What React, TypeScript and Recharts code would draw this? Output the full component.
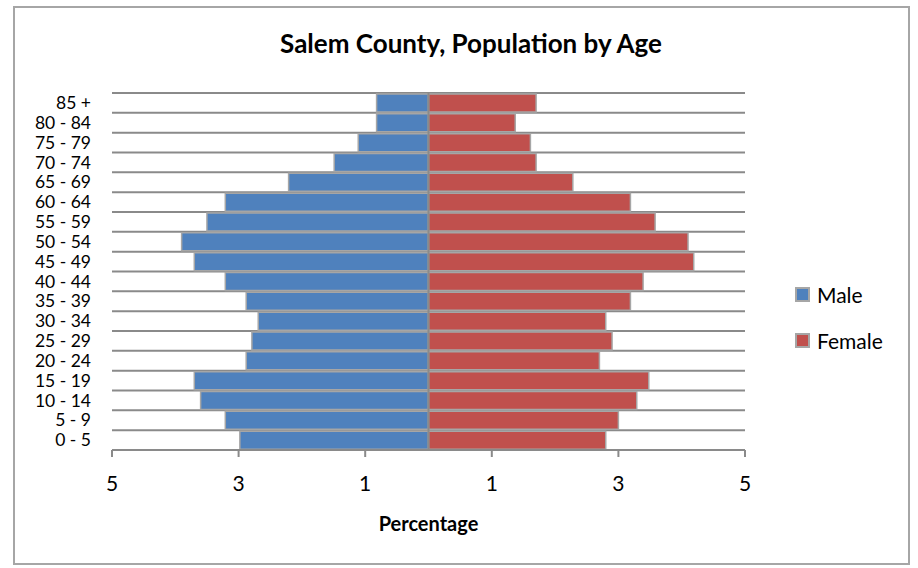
import React from "react";
import {
  BarChart,
  Bar,
  XAxis,
  YAxis,
  CartesianGrid,
  ReferenceLine,
} from "recharts";

const ageGroups = [
  "0 - 5", "5 - 9", "10 - 14", "15 - 19", "20 - 24", "25 - 29",
  "30 - 34", "35 - 39", "40 - 44", "45 - 49", "50 - 54", "55 - 59",
  "60 - 64", "65 - 69", "70 - 74", "75 - 79", "80 - 84", "85 +",
];

// percent of population, youngest group first
const malePct = [
  2.98, 3.21, 3.6, 3.7, 2.88, 2.79, 2.69, 2.88, 3.21,
  3.7, 3.9, 3.5, 3.21, 2.21, 1.49, 1.11, 0.82, 0.82,
];
const femalePct = [
  2.8, 3.0, 3.29, 3.48, 2.7, 2.9, 2.8, 3.19, 3.39,
  4.19, 4.1, 3.58, 3.19, 2.28, 1.7, 1.61, 1.37, 1.7,
];

const xTicks = [-5, -3, -1, 1, 3, 5];

const series = [
  { key: "male", name: "Male", color: "#4f81bd" },
  { key: "female", name: "Female", color: "#c0504d" },
];

const data = ageGroups.map((age, i) => ({
  age,
  male: -malePct[i],
  female: femalePct[i],
}));

const FONT = "Lato, 'Open Sans', sans-serif";
const GRID = "#8a8a8a";
const OUTLINE = "#a6a6a6";

export default function App() {
  return (
    <div
      style={{
        position: "absolute",
        left: 0,
        top: 0,
        width: 918,
        height: 568,
        background: "#fff",
        fontFamily: FONT,
      }}
    >
      <div
        style={{
          position: "absolute",
          left: 13,
          top: 6,
          width: 897,
          height: 559,
          border: "2px solid #a6a6a6",
          boxSizing: "border-box",
        }}
      />
      <div
        style={{
          position: "absolute",
          left: 0,
          top: 27,
          width: 918,
          paddingLeft: 12,
          textAlign: "center",
          fontSize: 26,
          fontWeight: 700,
          color: "#000",
        }}
      >
        Salem County, Population by Age
      </div>

      <div style={{ position: "absolute", left: 0, top: 0 }}>
        <BarChart
          width={918}
          height={568}
          data={data}
          layout="vertical"
          stackOffset="sign"
          barCategoryGap={1}
          margin={{ top: 93, right: 173, bottom: 0, left: 0 }}
        >
          <CartesianGrid
            vertical={false}
            stroke={GRID}
            strokeWidth={2}
            horizontalCoordinatesGenerator={({ offset }: any) =>
              ageGroups.map(
                (_, k) => offset.top + (k * offset.height) / ageGroups.length
              )
            }
          />
          <XAxis
            type="number"
            domain={[-5, 5]}
            ticks={xTicks}
            tickFormatter={(v: number) => String(Math.abs(v))}
            height={118}
            axisLine={{ stroke: GRID, strokeWidth: 2 }}
            tickLine={{ stroke: GRID, strokeWidth: 2 }}
            tickSize={7}
            tickMargin={19}
            tick={{ fontSize: 21, fill: "#000", fontFamily: FONT }}
            label={{
              value: "Percentage",
              position: "insideBottom",
              offset: 37,
              style: {
                fontSize: 20,
                fontWeight: 700,
                fill: "#000",
                fontFamily: FONT,
              },
            }}
          />
          <YAxis
            type="category"
            dataKey="age"
            reversed
            width={112}
            axisLine={false}
            tickLine={false}
            tickSize={0}
            interval={0}
            tickMargin={21}
            tick={{ fontSize: 17.5, fill: "#000", fontFamily: FONT }}
          />
          {series.map((s) => (
            <Bar
              key={s.key}
              dataKey={s.key}
              name={s.name}
              stackId="pop"
              fill={s.color}
              stroke={OUTLINE}
              strokeWidth={1.5}
              isAnimationActive={false}
            />
          ))}
          <ReferenceLine x={0} stroke={GRID} strokeWidth={2} />
        </BarChart>
      </div>

      <div style={{ position: "absolute", left: 795, top: 280 }}>
        {series.map((s) => (
          <div
            key={s.key}
            style={{
              display: "flex",
              alignItems: "center",
              height: 28,
              marginBottom: 18,
              fontSize: 21,
              color: "#000",
            }}
          >
            <span
              style={{
                display: "inline-block",
                width: 11,
                height: 11,
                background: s.color,
                border: "2px solid #a6a6a6",
                marginRight: 7,
              }}
            />
            {s.name}
          </div>
        ))}
      </div>
    </div>
  );
}
